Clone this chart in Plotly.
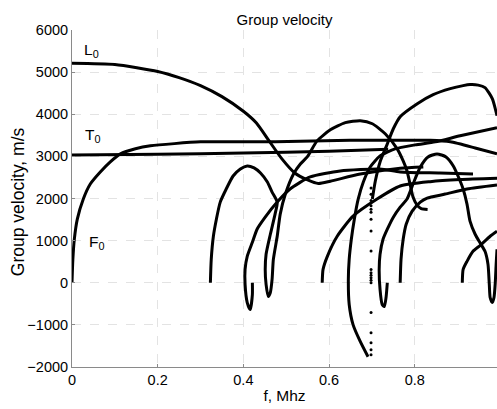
import plotly.graph_objects as go

# Group-velocity dispersion branches (f in MHz, velocity in m/s)
f_L0 = [0, 0.10, 0.20, 0.25, 0.30, 0.35, 0.40, 0.43, 0.46, 0.49, 0.52, 0.55, 0.575,
        0.603, 0.673, 0.766, 0.820]
v_L0 = [5210, 5180, 5015, 4870, 4680, 4418, 4071, 3798, 3368, 2940, 2606, 2440, 2356,
        2410, 2580, 2720, 2750]

f_F0 = [0, 0.002, 0.0054, 0.0124, 0.0264, 0.0427, 0.066, 0.0894, 0.113, 0.148, 0.183,
        0.30, 0.416, 0.533, 0.649, 0.766, 0.836, 0.883, 0.941, 0.992]
v_F0 = [0, 555, 1030, 1510, 1990, 2345, 2630, 2870, 3060, 3180, 3250,
        3345, 3345, 3357, 3380, 3385, 3380, 3345, 3200, 3060]

f_T0 = [0, 0.2, 0.4, 0.6, 0.738]
v_T0 = [3030, 3050, 3080, 3120, 3170]

f_m1 = [0.323, 0.325, 0.330, 0.337, 0.346, 0.360, 0.376, 0.393, 0.409, 0.425, 0.440,
        0.456, 0.467, 0.479, 0.474, 0.463, 0.453, 0.451, 0.453, 0.458, 0.463, 0.467,
        0.470, 0.479, 0.486, 0.498, 0.517, 0.533, 0.549, 0.572, 0.603, 0.638, 0.673,
        0.701, 0.731, 0.759, 0.773, 0.782, 0.789, 0.796, 0.805, 0.815, 0.830]
v_m1 = [0, 555, 1104, 1509, 1914, 2225, 2534, 2701, 2773, 2725, 2606,
        2391, 2153, 1914, 1629, 1151, 675, 317, -40, -326, -230, 79,
        555, 1104, 1629, 2105, 2582, 2820, 2987, 3368, 3630, 3800, 3845,
        3775, 3537, 3178, 2892, 2653, 2344, 2034, 1850, 1760, 1740]

f_m2 = [0.421, 0.421, 0.416, 0.409, 0.404, 0.404, 0.409, 0.421, 0.432, 0.451, 0.479,
        0.509, 0.556, 0.626, 0.719, 0.766, 0.859, 0.936]
v_m2 = [0, -280, -636, -470, -40, 317, 627, 960, 1271, 1557, 1914,
        2225, 2511, 2653, 2701, 2630, 2605, 2582]

f_m3 = [0.584, 0.586, 0.596, 0.619, 0.656, 0.712, 0.766, 0.836, 0.906, 0.992]
v_m3 = [0, 317, 627, 1104, 1580, 1986, 2296, 2400, 2450, 2480]

f_m4 = [0.691, 0.673, 0.656, 0.647, 0.645, 0.647, 0.652, 0.659, 0.668, 0.680, 0.696,
        0.719, 0.754, 0.801, 0.848, 0.906, 0.992]
v_m4 = [-1757, -1399, -994, -517, 79, 555, 1032, 1509, 1986, 2391, 2749,
        3011, 3178, 3273, 3345, 3488, 3680]

f_m5 = [0.701, 0.708, 0.719, 0.736, 0.750, 0.766, 0.806, 0.843, 0.883, 0.913, 0.929,
        0.948, 0.964, 0.981, 0.992]
v_m5 = [1986, 2415, 2868, 3298, 3656, 3941, 4250, 4465, 4608, 4680, 4704,
        4692, 4632, 4370, 3965]

f_m6 = [0.736, 0.733, 0.729, 0.724, 0.719, 0.717, 0.719, 0.726, 0.736, 0.750, 0.766,
        0.782, 0.796, 0.813, 0.831, 0.852, 0.873, 0.890, 0.904, 0.913, 0.922, 0.929,
        0.941, 0.953, 0.964, 0.971, 0.974, 0.976, 0.981, 0.985, 0.988, 0.990, 0.992]
v_m6 = [0, -350, -565, -517, -159, 317, 675, 1032, 1271, 1557, 1795,
        1986, 2344, 2749, 2987, 3059, 2987, 2773, 2463, 2225, 1867, 1461,
        1151, 937, 746, 437, -40, -350, -470, -350, 7, 437, 794]

f_m7 = [0.766, 0.768, 0.773, 0.780, 0.794, 0.813, 0.829, 0.871, 0.922, 0.992]
v_m7 = [0, 555, 1032, 1390, 1700, 1914, 2010, 2105, 2225, 2320]

f_m8 = [0.911, 0.913, 0.922, 0.936, 0.953, 0.976, 0.992]
v_m8 = [0, 317, 508, 746, 889, 1104, 1223]

# isolated solver points on the near-vertical jump at f = 0.698 MHz
v_jump = [-1710, -1590, -1423, -1185, -708, 0, 60, 120, 180, 240, 317, 753,
          1230, 1509, 1676, 1747, 1826, 1950, 2100, 2250]
f_jump = [0.698] * len(v_jump)

branches = [(f_L0, v_L0), (f_F0, v_F0), (f_T0, v_T0), (f_m1, v_m1), (f_m2, v_m2),
            (f_m3, v_m3), (f_m4, v_m4), (f_m5, v_m5), (f_m6, v_m6), (f_m7, v_m7),
            (f_m8, v_m8)]

FONT = "Liberation Sans, Arial, Helvetica, sans-serif"

fig = go.Figure()
for fx, vy in branches:
    fig.add_trace(go.Scatter(x=fx, y=vy, mode="lines",
                             line=dict(color="black", width=3, shape="spline", smoothing=0.6),
                             hoverinfo="skip", showlegend=False))
fig.add_trace(go.Scatter(x=f_jump, y=v_jump, mode="markers",
                         marker=dict(color="black", size=3),
                         hoverinfo="skip", showlegend=False))

mode_labels = [("L<sub>0</sub>", 0.024, 5520), ("T<sub>0</sub>", 0.026, 3500),
               ("F<sub>0</sub>", 0.036, 950)]
for txt, fx, vy in mode_labels:
    fig.add_annotation(x=fx, y=vy, text=txt, showarrow=False, xanchor="left",
                       yanchor="middle", font=dict(family=FONT, size=15.5, color="black"))

# y-axis title placed as a rotated annotation
fig.add_annotation(text="Group velocity, m/s", textangle=-90, showarrow=False,
                   xref="paper", yref="paper", x=-54 / 425, y=0.489,
                   xanchor="center", yanchor="middle",
                   font=dict(family=FONT, size=17.5, color="black"))

axis_common = dict(showgrid=True, gridcolor="#e3e3e3", griddash="dash", gridwidth=1,
                   showline=True, linecolor="#8a8a8a", linewidth=1, zeroline=False,
                   ticks="inside", ticklen=3, tickcolor="#8a8a8a",
                   tickfont=dict(family=FONT, size=14.5, color="black"))

fig.update_layout(
    width=497, height=409,
    margin=dict(l=72, r=0, t=30, b=42),
    paper_bgcolor="white", plot_bgcolor="white",
    title=dict(text="Group velocity", x=0.5, xref="paper", y=1 - 20 / 409,
               yanchor="middle", font=dict(family=FONT, size=15, color="black")),
    xaxis=dict(range=[0, 0.992], tickvals=[0, 0.2, 0.4, 0.6, 0.8],
               ticktext=["0", "0.2", "0.4", "0.6", "0.8"],
               title=dict(text="f, Mhz", standoff=2,
                          font=dict(family=FONT, size=15.5, color="black")),
               **axis_common),
    yaxis=dict(range=[-2000, 6000], tickvals=list(range(-2000, 6001, 1000)),
               **axis_common),
)

fig.write_html("out.html")
